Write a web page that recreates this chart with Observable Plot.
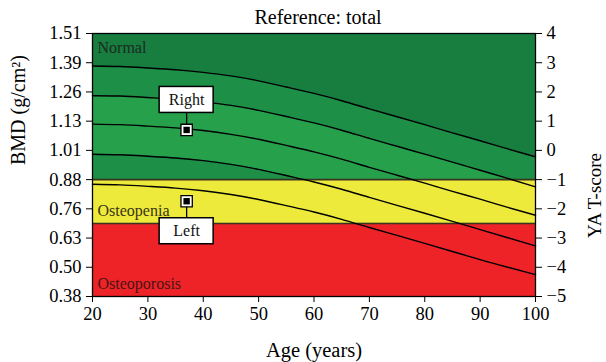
<!DOCTYPE html>
<html><head><meta charset="utf-8">
<script src="https://cdn.jsdelivr.net/npm/d3@7"></script>
<script src="https://cdn.jsdelivr.net/npm/@observablehq/plot@0.6"></script>
<style>body{margin:0;background:#fff}</style>
</head><body><div id="chart"></div>
<script>
// Ages (years)
const ages = [20,25,30,35,40,45,50,55,60,65,70,75,80,85,90,95,100];
// Reference curves, YA T-score units
const curveP2 = [2.89,2.87,2.82,2.76,2.67,2.55,2.38,2.17,1.95,1.70,1.42,1.15,0.88,0.60,0.33,0.05,-0.22];
const curveP1 = [1.87,1.86,1.81,1.75,1.66,1.54,1.37,1.16,0.94,0.69,0.41,0.14,-0.13,-0.40,-0.68,-0.96,-1.25];
const curveMean = [0.90,0.88,0.83,0.77,0.68,0.55,0.38,0.17,-0.05,-0.30,-0.58,-0.85,-1.12,-1.40,-1.67,-1.95,-2.22];
const curveM1 = [-0.13,-0.15,-0.20,-0.26,-0.35,-0.48,-0.65,-0.86,-1.08,-1.33,-1.61,-1.88,-2.15,-2.43,-2.71,-2.99,-3.27];
const curveM2 = [-1.16,-1.18,-1.23,-1.29,-1.38,-1.51,-1.68,-1.89,-2.11,-2.36,-2.64,-2.91,-3.18,-3.46,-3.74,-4.00,-4.25];
const curves = [curveP2, curveP1, curveMean, curveM1, curveM2];

// Tick labels
const ageTicks = [20,30,40,50,60,70,80,90,100];
const tScoreTicks = [-5,-4,-3,-2,-1,0,1,2,3,4];
const bmdLabels = ["0.38","0.50","0.63","0.76","0.88","1.01","1.13","1.26","1.39","1.51"];

// Diagnostic zones (T-score limits)
const zoneNames = ["Normal","Osteopenia","Osteoporosis"];
const zoneTop = [4,-1,-2.5];
const zoneBottom = [-1,-2.5,-5];
const zoneColors = ["#177e40","#eeea3c","#ee2328"];

// Measurements
const annotLabels = ["Right","Left"];
const annotAges = [37,37];
const annotT = [0.70,-1.74];

const shadeMid = "#1e8f46", shadeLight = "#26a04b";
const font = "'Liberation Serif', 'DejaVu Serif', serif";
const minus = d => d < 0 ? "\u2212" + Math.abs(d) : String(d);

const box = (i, dir) => [
  Plot.ruleX([i], {x: j => annotAges[j], y1: j => annotT[j], y2: j => annotT[j],
    ...(dir < 0 ? {insetTop: -30} : {insetBottom: -30}), stroke: "black", strokeWidth: 1.3}),
  Plot.rect([i], {x1: j => annotAges[j], x2: j => annotAges[j], y1: j => annotT[j], y2: j => annotT[j],
    insetLeft: -27, insetRight: -27, insetTop: -13, insetBottom: -13, dy: dir * 30,
    fill: "white", stroke: "black", strokeWidth: 1.5}),
  Plot.text([i], {x: j => annotAges[j], y: j => annotT[j], text: j => annotLabels[j], dy: dir * 30,
    fontSize: 16, fill: "#111", lineAnchor: "middle"}),
  Plot.dot([i], {x: j => annotAges[j], y: j => annotT[j], symbol: "square", r: 6.4,
    fill: "white", stroke: "black", strokeWidth: 1.3}),
  Plot.dot([i], {x: j => annotAges[j], y: j => annotT[j], symbol: "square", r: 3.6, fill: "black"})
];

const chart = Plot.plot({
  width: 606, height: 362,
  marginLeft: 92, marginRight: 71, marginTop: 33, marginBottom: 66,
  style: {fontFamily: font, fontSize: "18px", background: "white", color: "black"},
  x: {domain: [20, 100]},
  y: {domain: [-5, 4]},
  marks: [
    Plot.rect([0], {x1: () => 20, x2: () => 100, y1: i => zoneBottom[i], y2: i => zoneTop[i], fill: i => zoneColors[i]}),
    Plot.areaY(ages, {x: ages, y1: curveP2, y2: curveP1, curve: "natural", fill: shadeMid}),
    Plot.areaY(ages, {x: ages, y1: curveP1, y2: curveM1, curve: "natural", fill: shadeLight}),
    Plot.areaY(ages, {x: ages, y1: curveM1, y2: curveM2, curve: "natural", fill: shadeMid}),
    Plot.rect([1, 2], {x1: () => 20, x2: () => 100, y1: i => zoneBottom[i], y2: i => zoneTop[i], fill: i => zoneColors[i]}),
    Plot.ruleY([0, 1], {y: i => zoneBottom[i], stroke: "#3a3320", strokeWidth: 1.6}),
    ...curves.map(c => Plot.lineY(ages, {x: ages, y: c, curve: "natural", stroke: "black", strokeWidth: 1.4})),
    Plot.frame({stroke: "black", strokeWidth: 1.3}),
    Plot.axisX({ticks: ageTicks, tickSize: 6, tickPadding: 4, fontSize: 18.5, label: null}),
    Plot.axisY({anchor: "left", ticks: tScoreTicks, tickFormat: d => bmdLabels[tScoreTicks.indexOf(d)],
      tickSize: 6, tickPadding: 5, fontSize: 18.5, label: null}),
    Plot.axisY({anchor: "right", ticks: tScoreTicks, tickFormat: minus,
      tickSize: 6, tickPadding: 5, fontSize: 18.5, label: null}),
    Plot.text([zoneNames[0]], {frameAnchor: "top-left", text: d => d, dx: 5, dy: 14, textAnchor: "start",
      lineAnchor: "middle", fontSize: 16, fill: "#1c2a1f"}),
    Plot.text([1, 2], {x: () => 20, y: i => zoneBottom[i], text: i => zoneNames[i], dx: 5, dy: -13,
      textAnchor: "start", lineAnchor: "middle", fontSize: 16, fill: i => i === 1 ? "#3a3418" : "#4a1414"}),
    ...box(0, -1),
    ...box(1, 1),
    Plot.text(["Reference: total"], {frameAnchor: "top", text: d => d, dx: 4, dy: -16, lineAnchor: "middle", fontSize: 20}),
    Plot.text(["Age (years)"], {frameAnchor: "bottom", text: d => d, dy: 54, lineAnchor: "middle", fontSize: 20.5}),
    Plot.text(["BMD (g/cm\u00b2)"], {frameAnchor: "left", text: d => d, dx: -74, rotate: -90, lineAnchor: "middle", fontSize: 20}),
    Plot.text(["YA T-score"], {frameAnchor: "right", text: d => d, dx: 59, dy: -12, rotate: -90, lineAnchor: "middle", fontSize: 19})
  ]
});
document.getElementById("chart").append(chart);
</script>
</body></html>
